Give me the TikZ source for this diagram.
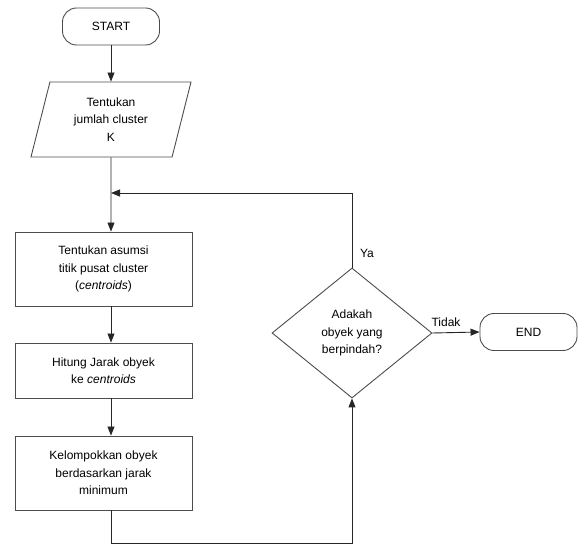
\documentclass[tikz,border=0pt]{standalone}
\usepackage{fontspec}
\setmainfont{Liberation Sans}
\usetikzlibrary{shapes.geometric,arrows.meta,positioning}

\begin{document}
\begin{tikzpicture}[x=1pt,y=-1pt, line width=0.9pt,
  every node/.style={font=\fontsize{12}{17.5}\selectfont, align=center, text=black},
  term/.style={draw=black!70, rounded corners=14pt, minimum width=97pt, minimum height=37pt},
  io/.style={draw=black!70, trapezium, trapezium left angle=67.5, trapezium right angle=112.5,
    trapezium stretches body, minimum width=160pt, minimum height=75pt, inner sep=1pt},
  proc/.style={draw=black!70, minimum width=177pt},
  dec/.style={draw=black!70, diamond, aspect=1.23, minimum width=160pt, minimum height=130pt, inner sep=0pt},
  arr/.style={draw=black!85, -{Triangle[length=9pt,width=7pt]}}]
  \useasboundingbox (0,0) rectangle (582,548);
  % flow on the left
  \node[term] (start) at (111,26.5) {START};
  \node[io] (input) at (111,119.5) {Tentukan\\jumlah cluster\\K};
  \node[proc, minimum height=74pt] (asumsi) at (103.5,269) {Tentukan asumsi\\titik pusat cluster\\(\textit{centroids})};
  \node[proc, minimum height=55pt] (jarak) at (103.5,370.5) {Hitung Jarak obyek\\ke \textit{centroids}};
  \node[proc, minimum height=74pt] (kelompok) at (103.5,473) {Kelompokkan obyek\\berdasarkan jarak\\minimum};
  % decision and end
  \node[dec] (pindah) at (352,333) {Adakah\\obyek yang\\berpindah?};
  \node[term] (end) at (528.5,332) {END};
  \coordinate (join) at (111,193);
  \coordinate (bawah) at (111,543);
  \draw[arr] (start) -- (input);
  \draw[arr] (input) -- (input |- asumsi.north);
  \draw[arr] (asumsi.south -| input) -- (jarak.north -| input);
  \draw[arr] (jarak.south -| input) -- (kelompok.north -| input);
  \draw[arr] (kelompok.south -| input) -- (bawah) -| (pindah.south);
  \draw[arr] (pindah.north) |- (join);
  \draw[arr] (pindah.east) -- (end.west);
  \node (ya) at (367,253) {Ya};
  \node (tidak) at (446,322) {Tidak};
\end{tikzpicture}
\end{document}
